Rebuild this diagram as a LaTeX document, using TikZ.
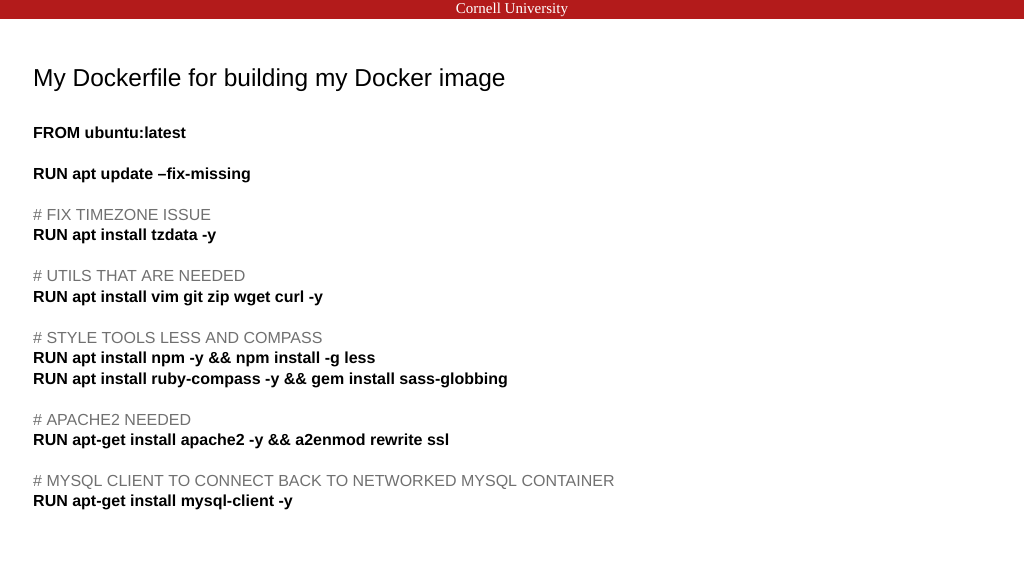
\documentclass[tikz,border=0pt]{standalone}
\usepackage{fontspec}
\setmainfont{Liberation Sans}
\newfontfamily\serifnm{Liberation Serif}
\definecolor{cornell}{HTML}{B31B1B}
\definecolor{cmt}{HTML}{707070}
\begin{document}
\begin{tikzpicture}[x=1pt,y=-1pt,
  code/.style={anchor=base west,inner sep=0pt,font=\fontsize{16}{19}\selectfont\bfseries},
  comment/.style={anchor=base west,inner sep=0pt,font=\fontsize{16}{19}\selectfont,text=cmt}]
\useasboundingbox (0,0) rectangle (1024,576);
\fill[cornell] (0,0) rectangle (1024,19);
\node[text=white,font=\serifnm\fontsize{15}{17}\selectfont,inner sep=0pt] (hdr) at (512,10) {Cornell University};
\node[anchor=base west,inner sep=0pt,font=\fontsize{24.5}{28}\selectfont] (title) at (33,86) {My Dockerfile for building my Docker image};
\node[code] (l1) at (33,138) {FROM ubuntu:latest};
\node[code] (l2) at (33,179) {RUN apt update --fix-missing};
\node[comment] (c1) at (33,220) {\# FIX TIMEZONE ISSUE};
\node[code] (l3) at (33,240.5) {RUN apt install tzdata -y};
\node[comment] (c2) at (33,281) {\# UTILS THAT ARE NEEDED};
\node[code] (l4) at (33,302) {RUN apt install vim git zip wget curl -y};
\node[comment] (c3) at (33,343) {\# STYLE TOOLS LESS AND COMPASS};
\node[code] (l5) at (33,363.5) {RUN apt install npm -y \&\& npm install -g less};
\node[code] (l6) at (33,384) {RUN apt install ruby-compass -y \&\& gem install sass-globbing};
\node[comment] (c4) at (33,425) {\# APACHE2 NEEDED};
\node[code] (l7) at (33,445.5) {RUN apt-get install apache2 -y \&\& a2enmod rewrite ssl};
\node[comment] (c5) at (33,486) {\# MYSQL CLIENT TO CONNECT BACK TO NETWORKED MYSQL CONTAINER};
\node[code] (l8) at (33,506.5) {RUN apt-get install mysql-client -y};
\end{tikzpicture}
\end{document}
